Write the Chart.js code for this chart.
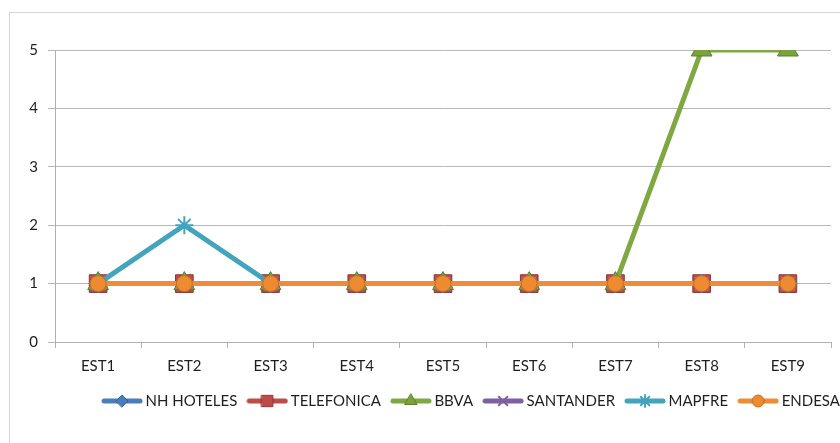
<!DOCTYPE html>
<html>
<head>
<meta charset="utf-8">
<script src="https://cdn.jsdelivr.net/npm/chart.js@4.4.1/dist/chart.umd.min.js"></script>
<style>
  html, body { margin: 0; padding: 0; background: #ffffff; overflow: hidden; width: 840px; height: 443px; }
  #box { position: absolute; left: 9px; top: 12px; border-left: 1px solid #d4d4d4; border-top: 1px solid #d4d4d4; }
  canvas { display: block; }
</style>
</head>
<body>
<div id="box"><canvas id="c" width="926" height="430"></canvas></div>
<script>
const categories = ['EST1','EST2','EST3','EST4','EST5','EST6','EST7','EST8','EST9'];
const seriesNames = ['NH HOTELES','TELEFONICA','BBVA','SANTANDER','MAPFRE','ENDESA'];
const nhHoteles  = [1,1,1,1,1,1,1,1,1];
const telefonica = [1,1,1,1,1,1,1,1,1];
const bbva       = [1,1,1,1,1,1,1,5,5];
const santander  = [1,1,1,1,1,1,1,1,1];
const mapfre     = [1,2,1,1,1,1,1,1,1];
const endesa     = [1,1,1,1,1,1,1,1,1];
const yTicks     = [0,1,2,3,4,5];

const seriesValues = [nhHoteles, telefonica, bbva, santander, mapfre, endesa];
const styles = [
  {line:'#4A7EBB', fill:'#4A7EBB', border:'#385D8A', point:'rectRot', r:9,  lr:6},
  {line:'#BE4B48', fill:'#BE4B48', border:'#8C3836', point:'rect',    r:12.5, lr:8},
  {line:'#7FA843', fill:'#7AA23E', border:'#5E7F2C', point:'triangle',r:12, lr:7},
  {line:'#7D60A0', fill:'#7D60A0', border:'#5C4776', point:'crossRot',r:9,  lr:6},
  {line:'#43A4BD', fill:'#43A4BD', border:'#357D90', point:'star',    r:9,  lr:6},
  {line:'#EE8C38', fill:'#EE8A30', border:'#C06E26', point:'circle',  r:8,  lr:6}
];

function legendImage(s) {
  const cv = document.createElement('canvas');
  cv.width = 42; cv.height = 16;
  const ctx = cv.getContext('2d');
  ctx.strokeStyle = s.line;
  ctx.lineWidth = 5;
  ctx.lineCap = 'round';
  ctx.beginPath(); ctx.moveTo(3, 8); ctx.lineTo(39, 8); ctx.stroke();
  ctx.fillStyle = s.fill;
  const lm = (s.point === 'crossRot' || s.point === 'star');
  ctx.strokeStyle = lm ? s.line : s.border;
  ctx.lineWidth = lm ? 2 : 1;
  Chart.helpers.drawPoint(ctx, {pointStyle: s.point, radius: s.lr, rotation: 0, borderWidth: ctx.lineWidth}, 21, 8);
  return cv;
}
const legendImgs = styles.map(legendImage);

const datasets = seriesNames.map((name, i) => {
  const s = styles[i];
  const lm = (s.point === 'crossRot' || s.point === 'star');
  return {
    label: name,
    data: seriesValues[i],
    borderColor: s.line,
    backgroundColor: s.fill,
    borderWidth: 5,
    tension: 0,
    order: seriesNames.length - i,
    pointStyle: s.point,
    pointRadius: s.r,
    pointHoverRadius: s.r,
    pointBackgroundColor: s.fill,
    pointBorderColor: lm ? s.line : s.border,
    pointBorderWidth: lm ? 2 : 1
  };
});

const textColor = '#1f1f1f';
new Chart(document.getElementById('c'), {
  type: 'line',
  data: { labels: categories, datasets: datasets },
  options: {
    responsive: false,
    animation: false,
    devicePixelRatio: 1,
    layout: { padding: { left: 0, right: 0, top: 37, bottom: 24.5 } },
    plugins: {
      tooltip: { enabled: false },
      legend: {
        position: 'bottom',
        labels: {
          usePointStyle: true,
          pointStyleWidth: 32,
          padding: 14,
          color: textColor,
          font: { family: 'Lato', size: 15 },
          sort: (a, b) => a.datasetIndex - b.datasetIndex,
          generateLabels: (chart) => {
            const items = Chart.defaults.plugins.legend.labels.generateLabels(chart);
            items.forEach(it => { it.pointStyle = legendImgs[it.datasetIndex]; });
            return items;
          }
        }
      }
    },
    scales: {
      x: {
        offset: true,
        grid: { display: true, offset: true, drawOnChartArea: false, drawTicks: true, tickLength: 6, color: '#b0b0b0' },
        border: { display: true, color: '#b0b0b0', width: 1 },
        ticks: { color: textColor, font: { family: 'Lato', size: 15 }, padding: 9, maxRotation: 0 },
        afterFit: (s) => { s.height = 37.5; }
      },
      y: {
        min: 0, max: 5,
        afterBuildTicks: (s) => { s.ticks = yTicks.map(v => ({ value: v })); },
        grid: { color: '#b8b8b8', tickLength: 7, drawTicks: true },
        border: { display: true, color: '#b0b0b0', width: 1 },
        ticks: { color: textColor, font: { family: 'Lato', size: 15 }, padding: 10 },
        afterFit: (s) => { s.width = 45; }
      },
      yR: {
        position: 'right',
        display: true,
        grid: { display: false },
        border: { display: false },
        ticks: { display: false },
        afterFit: (s) => { s.width = 105; }
      }
    }
  }
});
</script>
</body>
</html>
